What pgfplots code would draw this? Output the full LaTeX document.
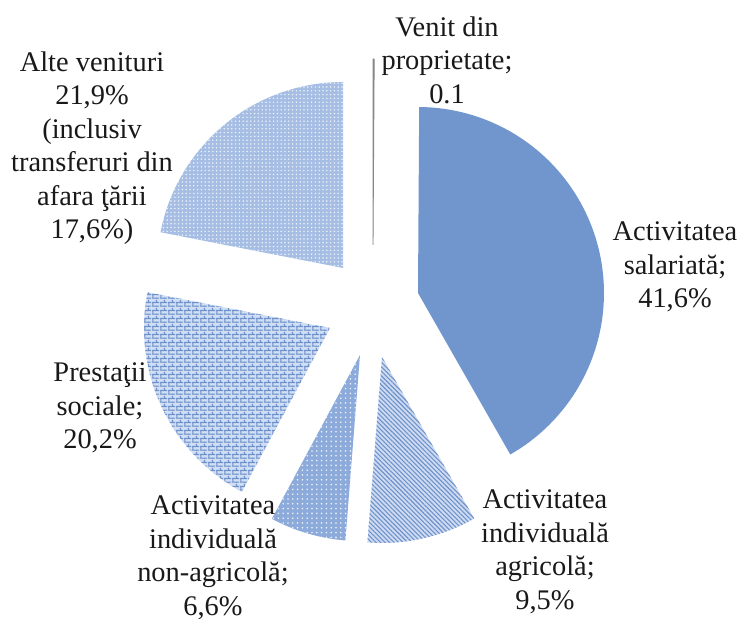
\documentclass[border=0pt]{standalone}
\usepackage{fontspec}
\setmainfont{Liberation Serif}
\usepackage{pgfplots}
\pgfplotsset{compat=1.18}
\usepackage{pgfplotstable}
\usetikzlibrary{patterns,patterns.meta}

\definecolor{salcol}{RGB}{112,150,205}
\definecolor{patblue}{RGB}{110,146,203}
\definecolor{agrbase}{RGB}{206,219,241}
\definecolor{nonbase}{RGB}{140,170,218}
\definecolor{prebase}{RGB}{210,222,244}
\definecolor{altbase}{RGB}{166,190,228}
\definecolor{venitcol}{RGB}{135,135,135}
\definecolor{txt}{RGB}{25,25,25}

\pgfdeclarepatternformonly{mybricks}{\pgfpointorigin}{\pgfqpoint{4pt}{4pt}}{\pgfqpoint{4pt}{4pt}}{%
  \pgfsetlinewidth{0.65pt}%
  \pgfpathmoveto{\pgfqpoint{0pt}{0.5pt}}\pgfpathlineto{\pgfqpoint{4pt}{0.5pt}}%
  \pgfpathmoveto{\pgfqpoint{0pt}{2.5pt}}\pgfpathlineto{\pgfqpoint{4pt}{2.5pt}}%
  \pgfpathmoveto{\pgfqpoint{0.5pt}{0.5pt}}\pgfpathlineto{\pgfqpoint{0.5pt}{2.5pt}}%
  \pgfpathmoveto{\pgfqpoint{2.5pt}{2.5pt}}\pgfpathlineto{\pgfqpoint{2.5pt}{4pt}}%
  \pgfpathmoveto{\pgfqpoint{2.5pt}{0pt}}\pgfpathlineto{\pgfqpoint{2.5pt}{0.5pt}}%
  \pgfusepath{stroke}%
}

% share (%) and apex of each exploded slice (pixel coordinates, y downward)
\pgfplotstableread{
name val ax ay
Venit 0.1 373 245
Salariata 41.6 418 293
Agricola 9.5 382 357
Nonagricola 6.6 360 355
Prestatii 20.2 330 328
Alte 21.9 343 268
}\pietable

\newcommand\lbl{\fontsize{14.2}{16.75}\selectfont}
\def\R{186}

\begin{document}
\begin{tikzpicture}
\def\tot{0}%
\foreach \i in {0,...,5}{%
  \pgfplotstablegetelem{\i}{val}\of\pietable
  \pgfmathsetmacro\nt{\tot+\pgfplotsretval}%
  \xdef\tot{\nt}%
}%
\def\cum{0}%
\foreach \i/\L in {0/A,1/B,2/C,3/D,4/E,5/F}{%
  \pgfplotstablegetelem{\i}{val}\of\pietable
  \let\vv\pgfplotsretval
  \pgfmathsetmacro\sst{\cum/\tot*360}%
  \pgfmathsetmacro\een{(\cum+\vv)/\tot*360}%
  \pgfmathsetmacro\nc{\cum+\vv}%
  \expandafter\xdef\csname sa\L\endcsname{\sst}%
  \expandafter\xdef\csname ea\L\endcsname{\een}%
  \xdef\cum{\nc}%
  \pgfplotstablegetelem{\i}{ax}\of\pietable
  \expandafter\xdef\csname ax\L\endcsname{\pgfplotsretval}%
  \pgfplotstablegetelem{\i}{ay}\of\pietable
  \expandafter\xdef\csname ay\L\endcsname{\pgfplotsretval}%
}%
\begin{axis}[name=ax, at={(0,0)}, anchor=south west,
  width=370pt, height=309.5pt, scale only axis,
  xmin=0, xmax=740, ymin=0, ymax=619, y dir=reverse,
  hide axis, clip=false]

% Venit din proprietate
\addplot[draw=venitcol, line width=0.45pt, fill=venitcol, domain=\saA:\eaA, samples=3, variable=\t]
  ({\axA+\R*sin(\t)}, {\ayA-\R*cos(\t)}) -- (\axA,\ayA) -- cycle;
% Activitatea salariata
\addplot[draw=none, fill=salcol, domain=\saB:\eaB, samples=100, variable=\t]
  ({\axB+\R*sin(\t)}, {\ayB-\R*cos(\t)}) -- (\axB,\ayB) -- cycle;
% Activitatea individuala agricola
\addplot[draw=none, preaction={fill=agrbase}, pattern={Lines[angle=-45,distance=1.6pt,line width=0.55pt]}, pattern color=patblue,
  domain=\saC:\eaC, samples=40, variable=\t]
  ({\axC+\R*sin(\t)}, {\ayC-\R*cos(\t)}) -- (\axC,\ayC) -- cycle;
% Activitatea individuala non-agricola
\addplot[draw=none, preaction={fill=nonbase}, pattern={Dots[distance=2.4pt,radius=0.45pt]}, pattern color=white!85!nonbase,
  domain=\saD:\eaD, samples=40, variable=\t]
  ({\axD+\R*sin(\t)}, {\ayD-\R*cos(\t)}) -- (\axD,\ayD) -- cycle;
% Prestatii sociale
\addplot[draw=none, preaction={fill=prebase}, pattern=mybricks, pattern color=patblue,
  domain=\saE:\eaE, samples=60, variable=\t]
  ({\axE+\R*sin(\t)}, {\ayE-\R*cos(\t)}) -- (\axE,\ayE) -- cycle;
% Alte venituri
\addplot[draw=none, preaction={fill=altbase}, pattern={Dots[distance=1.9pt,radius=0.42pt]}, pattern color=white!80!altbase,
  domain=\saF:\eaF, samples=60, variable=\t]
  ({\axF+\R*sin(\t)}, {\ayF-\R*cos(\t)}) -- (\axF,\ayF) -- cycle;

\begin{scope}[every node/.style={align=center, inner sep=0pt, font=\lbl, text=txt}]
\node at (axis cs:447,60) {Venit din\\proprietate;\\0.1};
\node at (axis cs:675,267) {Activitatea\\salariată;\\41,6\%};
\node at (axis cs:545,552) {Activitatea\\individuală\\agricolă;\\9,5\%};
\node at (axis cs:213,558) {Activitatea\\individuală\\non-agricolă;\\6,6\%};
\node at (axis cs:100,408) {Prestaţii\\sociale;\\20,2\%};
\node at (axis cs:92,148) {Alte venituri\\21,9\%\\(inclusiv\\transferuri din\\afara ţării\\17,6\%)};
\end{scope}
\end{axis}
\pgfresetboundingbox
\useasboundingbox (ax.south west) rectangle (ax.north east);
\end{tikzpicture}
\end{document}
